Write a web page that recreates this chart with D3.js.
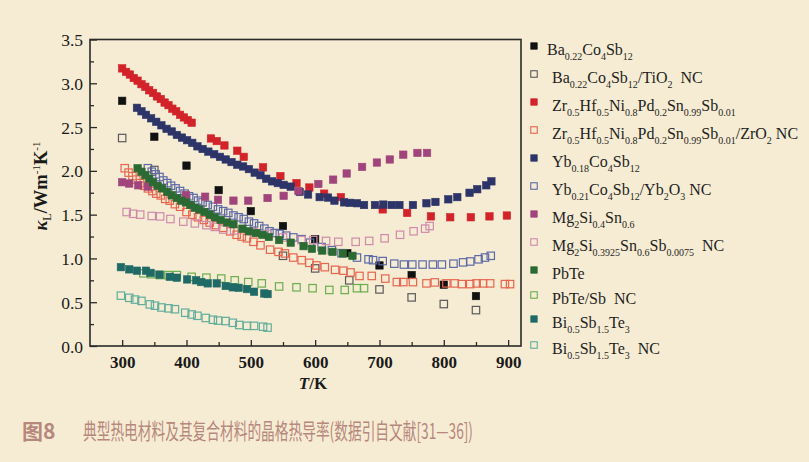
<!DOCTYPE html>
<html>
<head>
<meta charset="utf-8">
<script src="https://cdn.jsdelivr.net/npm/d3@7"></script>
<style>
  html, body { margin: 0; padding: 0; background: #f6ecd3; }
  svg { display: block; }
</style>
</head>
<body>
<svg id="chart" width="809" height="462"></svg>
<script>
// Lattice thermal conductivity, [T (K), kappa_L (W m^-1 K^-1)]
const xTickValues = [300, 400, 500, 600, 700, 800, 900];
const xMinorTicks = [350, 450, 550, 650, 750, 850];
const yTickValues = [0, 0.5, 1.0, 1.5, 2.0, 2.5, 3.0, 3.5];
const yMinorTicks = [0.25, 0.75, 1.25, 1.75, 2.25, 2.75, 3.25];

const baCoSb = [[300,2.80],[350,2.39],[400,2.06],[450,1.78],[500,1.54],[550,1.37],[600,1.22],[650,1.06],[700,0.92],[750,0.81],[800,0.70],[850,0.57]];
const baCoSbTiO2 = [[300,2.375],[350,2.01],[550,1.03],[600,0.886],[653,0.75],[700,0.646],[750,0.555],[800,0.479],[850,0.41]];
const zrHfNiSn = [[300,3.17],[306,3.13],[312,3.10],[318,3.06],[324,3.03],[330,2.99],[336,2.96],[342,2.92],[348,2.89],[354,2.85],[360,2.82],[366,2.78],[372,2.75],[378,2.71],[384,2.68],[390,2.64],[396,2.61],[402,2.58],[408,2.55],
  [438,2.37],[447,2.34],[459,2.29],[479,2.23],[489,2.16],[519,2.04],[546,1.94],[571,1.86],[591,1.81],[614,1.74],[640,1.70],[705,1.56],[743,1.52],[780,1.48],[810,1.47],[842,1.47],[871,1.48],[898,1.49]];
const zrHfNiSnZrO2 = [[304,2.03],[310,1.98],[316,1.94],[322,1.90],[328,1.86],[334,1.83],[340,1.80],[347,1.77],[353,1.74],[360,1.72],[367,1.68],[374,1.66],[382,1.62],[390,1.59],[400,1.53],[409,1.50],[418,1.47],[427,1.44],[436,1.41],[446,1.38],[457,1.35],[468,1.31],[478,1.27],[486,1.25],[494,1.23],[504,1.19],[515,1.15],[530,1.10],[543,1.075],[553,1.057],[566,1.01],[579,0.98],[591,0.95],[602,0.92],[615,0.90],[631,0.87],[644,0.86],[655,0.84],[669,0.80],[688,0.80],[709,0.77],[727,0.73],[737,0.73],[752,0.73],[773,0.715],[786,0.726],[804,0.715],[817,0.715],[828,0.707],[841,0.707],[851,0.715],[861,0.715],[872,0.715],[895,0.707],[903,0.707]];
const ybCoSb = [[323,2.72],[330,2.68],[337,2.64],[345,2.60],[353,2.56],[361,2.52],[369,2.48],[377,2.45],[385,2.41],[393,2.38],[401,2.35],[409,2.32],[417,2.28],[425,2.25],[434,2.22],[443,2.19],[452,2.16],[461,2.13],[470,2.10],[479,2.07],[488,2.05],[497,2.02],[506,1.98],[515,1.95],[524,1.91],[533,1.88],[542,1.86],[551,1.84],[562,1.82],[576,1.76],[589,1.73],[607,1.70],[620,1.695],[630,1.66],[645,1.64],[654,1.635],[665,1.63],[676,1.61],[693,1.61],[706,1.615],[719,1.61],[731,1.61],[752,1.61],[773,1.63],[787,1.645],[807,1.675],[821,1.70],[840,1.75],[852,1.79],[866,1.835],[874,1.88]];
const ybCoSbYb2O3 = [[340,2.03],[346,1.99],[352,1.96],[358,1.93],[364,1.89],[370,1.86],[376,1.83],[383,1.80],[390,1.77],[397,1.74],[404,1.71],[411,1.69],[418,1.66],[425,1.64],[433,1.61],[441,1.59],[449,1.56],[457,1.54],[465,1.52],[473,1.49],[481,1.47],[489,1.45],[497,1.42],[505,1.40],[513,1.37],[521,1.34],[529,1.31],[537,1.29],[545,1.28],[555,1.26],[566,1.24],[579,1.22],[592,1.18],[610,1.13],[626,1.095],[641,1.06],[665,1.01],[683,0.99],[690,0.98],[705,0.97],[723,0.94],[738,0.93],[751,0.93],[767,0.93],[783,0.93],[797,0.93],[815,0.94],[830,0.955],[841,0.965],[854,0.99],[864,1.01],[873,1.03]];
const mgSiSn = [[300,1.87],[311,1.855],[325,1.835],[340,1.82],[399,1.725],[429,1.705],[449,1.67],[473,1.66],[496,1.66],[526,1.69],[551,1.715],[574,1.77],[605,1.85],[628,1.90],[649,1.97],[673,2.045],[696,2.095],[716,2.13],[737,2.185],[759,2.205],[774,2.205]];
const mgSiSnSb = [[307,1.53],[317,1.51],[328,1.50],[346,1.485],[359,1.48],[375,1.45],[395,1.42],[413,1.40],[431,1.38],[444,1.36],[457,1.33],[474,1.32],[504,1.30],[525,1.28],[550,1.24],[579,1.21],[597,1.21],[617,1.20],[636,1.19],[663,1.19],[684,1.20],[708,1.23],[732,1.27],[753,1.31],[771,1.34],[778,1.37]];
const pbTe = [[324,2.03],[330,1.99],[336,1.95],[342,1.91],[348,1.87],[355,1.83],[362,1.80],[370,1.76],[377,1.72],[385,1.69],[392,1.66],[399,1.64],[406,1.61],[413,1.58],[420,1.56],[428,1.53],[436,1.50],[444,1.47],[453,1.44],[463,1.41],[473,1.39],[487,1.34],[497,1.31],[508,1.29],[518,1.27],[528,1.245],[544,1.21],[562,1.18],[582,1.14],[595,1.11],[611,1.09],[627,1.075],[643,1.057],[658,1.03]];
const pbTeSb = [[333,0.83],[345,0.82],[359,0.81],[372,0.81],[385,0.81],[408,0.79],[431,0.78],[454,0.77],[475,0.75],[496,0.73],[517,0.715],[544,0.68],[571,0.67],[596,0.66],[622,0.64],[646,0.64],[665,0.66],[676,0.66]];
const biSbTe = [[298,0.90],[311,0.875],[323,0.86],[337,0.86],[344,0.835],[358,0.815],[374,0.79],[385,0.78],[401,0.76],[415,0.75],[423,0.73],[433,0.715],[447,0.715],[461,0.685],[472,0.67],[481,0.665],[494,0.65],[505,0.62],[521,0.60],[526,0.593]];
const biSbTeNC = [[298,0.575],[311,0.55],[320,0.53],[330,0.515],[343,0.475],[351,0.46],[361,0.44],[372,0.43],[382,0.42],[398,0.38],[408,0.36],[417,0.345],[430,0.32],[441,0.30],[449,0.29],[461,0.285],[472,0.265],[482,0.24],[494,0.23],[505,0.23],[519,0.22],[526,0.21]];

// Legend labels; _{...} marks a subscript
const seriesLabels = [
  "Ba_{0.22}Co_{4}Sb_{12}",
  "Ba_{0.22}Co_{4}Sb_{12}/TiO_{2}  NC",
  "Zr_{0.5}Hf_{0.5}Ni_{0.8}Pd_{0.2}Sn_{0.99}Sb_{0.01}",
  "Zr_{0.5}Hf_{0.5}Ni_{0.8}Pd_{0.2}Sn_{0.99}Sb_{0.01}/ZrO_{2} NC",
  "Yb_{0.18}Co_{4}Sb_{12}",
  "Yb_{0.21}Co_{4}Sb_{12}/Yb_{2}O_{3} NC",
  "Mg_{2}Si_{0.4}Sn_{0.6}",
  "Mg_{2}Si_{0.3925}Sn_{0.6}Sb_{0.0075}  NC",
  "PbTe",
  "PbTe/Sb  NC",
  "Bi_{0.5}Sb_{1.5}Te_{3}",
  "Bi_{0.5}Sb_{1.5}Te_{3}  NC"
];
const seriesColors = ["#111111","#5a5a5a","#d2232a","#e8654f","#2c3468","#5c6aa6","#a0457b","#cf8aab","#2b6a33","#6aae4e","#1f6a66","#62ad9c"];
const seriesFilled = [true,false,true,false,true,false,true,false,true,false,true,false];
const seriesData = [baCoSb, baCoSbTiO2, zrHfNiSn, zrHfNiSnZrO2, ybCoSb, ybCoSbYb2O3, mgSiSn, mgSiSnSb, pbTe, pbTeSb, biSbTe, biSbTeNC];
const legendRows = [46, 74, 102, 130, 158, 186, 214, 242, 270, 295, 319, 345];

const series = seriesData.map((d, i) => ({
  data: d, label: seriesLabels[i], color: seriesColors[i], filled: seriesFilled[i], row: legendRows[i]
}));

const svg = d3.select("#chart");
const serif = "'Liberation Serif','Times New Roman',serif";
const ink = "#2a2a2a";

svg.append("rect").attr("width", 809).attr("height", 462).attr("fill", "#f6ecd3");

const x = d3.scaleLinear().domain([250, 920]).range([90, 521]);
const y = d3.scaleLinear().domain([0, 3.5]).range([346, 39.5]);

// Axes with inward ticks
const gx = svg.append("g").attr("transform", "translate(0,346)")
  .call(d3.axisBottom(x).tickValues(xTickValues).tickSize(-6).tickFormat(d3.format("d")));
const gxm = svg.append("g").attr("transform", "translate(0,346)")
  .call(d3.axisBottom(x).tickValues(xMinorTicks).tickSize(-4).tickFormat(""));
const gy = svg.append("g").attr("transform", "translate(90,0)")
  .call(d3.axisLeft(y).tickValues(yTickValues).tickSize(-7).tickFormat(d3.format(".1f")));
const gym = svg.append("g").attr("transform", "translate(90,0)")
  .call(d3.axisLeft(y).tickValues(yMinorTicks).tickSize(-4).tickFormat(""));

[gx, gxm, gy, gym].forEach(g => {
  g.select(".domain").remove();
  g.selectAll(".tick line").attr("stroke", ink).attr("stroke-width", 1.3);
});
gx.selectAll(".tick text").attr("y", 22).attr("dy", 0)
  .attr("font-family", serif).attr("font-size", 17).attr("font-weight", "bold").attr("fill", "#1a1a1a");
gy.selectAll(".tick text").attr("x", -7).attr("dy", "0.35em")
  .attr("font-family", serif).attr("font-size", 17.5).attr("fill", "#1a1a1a");

// Frame
svg.append("rect").attr("x", 90).attr("y", 39.5).attr("width", 431).attr("height", 306.5)
  .attr("fill", "none").attr("stroke", ink).attr("stroke-width", 1.6);

// Data markers, one group per series (later series drawn on top)
const ms = 7.4;
series.forEach(s => {
  svg.append("g").selectAll("rect").data(s.data).join("rect")
    .attr("x", d => x(d[0]) - ms / 2)
    .attr("y", d => y(d[1]) - ms / 2)
    .attr("width", ms).attr("height", ms)
    .attr("fill", s.filled ? s.color : "none")
    .attr("stroke", s.color)
    .attr("stroke-width", s.filled ? 0.6 : 1.2);
});

// Legend: marker plus formula with subscripts
const lg = svg.append("g");
series.forEach((s, i) => {
  const lms = 6.5;
  lg.append("rect")
    .attr("x", 534 - lms / 2).attr("y", s.row - lms / 2)
    .attr("width", lms).attr("height", lms)
    .attr("fill", s.filled ? s.color : "none")
    .attr("stroke", s.color).attr("stroke-width", s.filled ? 0.6 : 1.1);
  const t = lg.append("text")
    .attr("x", i === 0 ? 547 : 552).attr("y", s.row + 9)
    .attr("font-family", serif).attr("fill", "#1e1e1e")
    .style("white-space", "pre");
  let shifted = false;
  s.label.split(/(_\{[^}]*\})/).filter(p => p.length).forEach(p => {
    if (p.startsWith("_{")) {
      t.append("tspan").text(p.slice(2, -1)).attr("font-size", 10).attr("dy", shifted ? 0 : 5);
      shifted = true;
    } else {
      t.append("tspan").text(p).attr("font-size", 16).attr("dy", shifted ? -5 : 0);
      shifted = false;
    }
  });
});

// Axis titles
const xt = svg.append("text").attr("x", 313).attr("y", 389).attr("text-anchor", "middle")
  .attr("font-family", serif).attr("font-size", 17).attr("font-weight", "bold").attr("fill", "#1a1a1a");
xt.append("tspan").text("T").attr("font-style", "italic");
xt.append("tspan").text("/K");

const yt = svg.append("text").attr("transform", "translate(47,186) rotate(-90)")
  .attr("text-anchor", "middle").attr("font-family", serif).attr("font-size", 18.5)
  .attr("font-weight", "bold").attr("fill", "#1a1a1a");
yt.append("tspan").text("κ").attr("font-style", "italic");
yt.append("tspan").text("L").attr("font-size", 12).attr("dy", 4).attr("font-weight", "normal");
yt.append("tspan").text("/Wm").attr("dy", -4);
yt.append("tspan").text("-1").attr("font-size", 11).attr("dy", -7).attr("font-weight", "normal");
yt.append("tspan").text("K").attr("dy", 7);
yt.append("tspan").text("-1").attr("font-size", 11).attr("dy", -7).attr("font-weight", "normal");

// Figure caption
const capColor = "#b6877c";
svg.append("text").attr("x", 22).attr("y", 439)
  .attr("font-family", "'Noto Sans CJK SC',sans-serif").attr("font-size", 21).attr("font-weight", "bold")
  .attr("fill", capColor).text("图8");
svg.append("text").attr("x", 83).attr("y", 439)
  .attr("font-family", "'Noto Sans CJK SC',sans-serif").attr("font-size", 21.5)
  .attr("fill", capColor)
  .attr("textLength", 390).attr("lengthAdjust", "spacingAndGlyphs")
  .text("典型热电材料及其复合材料的晶格热导率(数据引自文献[31—36])");
</script>
</body>
</html>
